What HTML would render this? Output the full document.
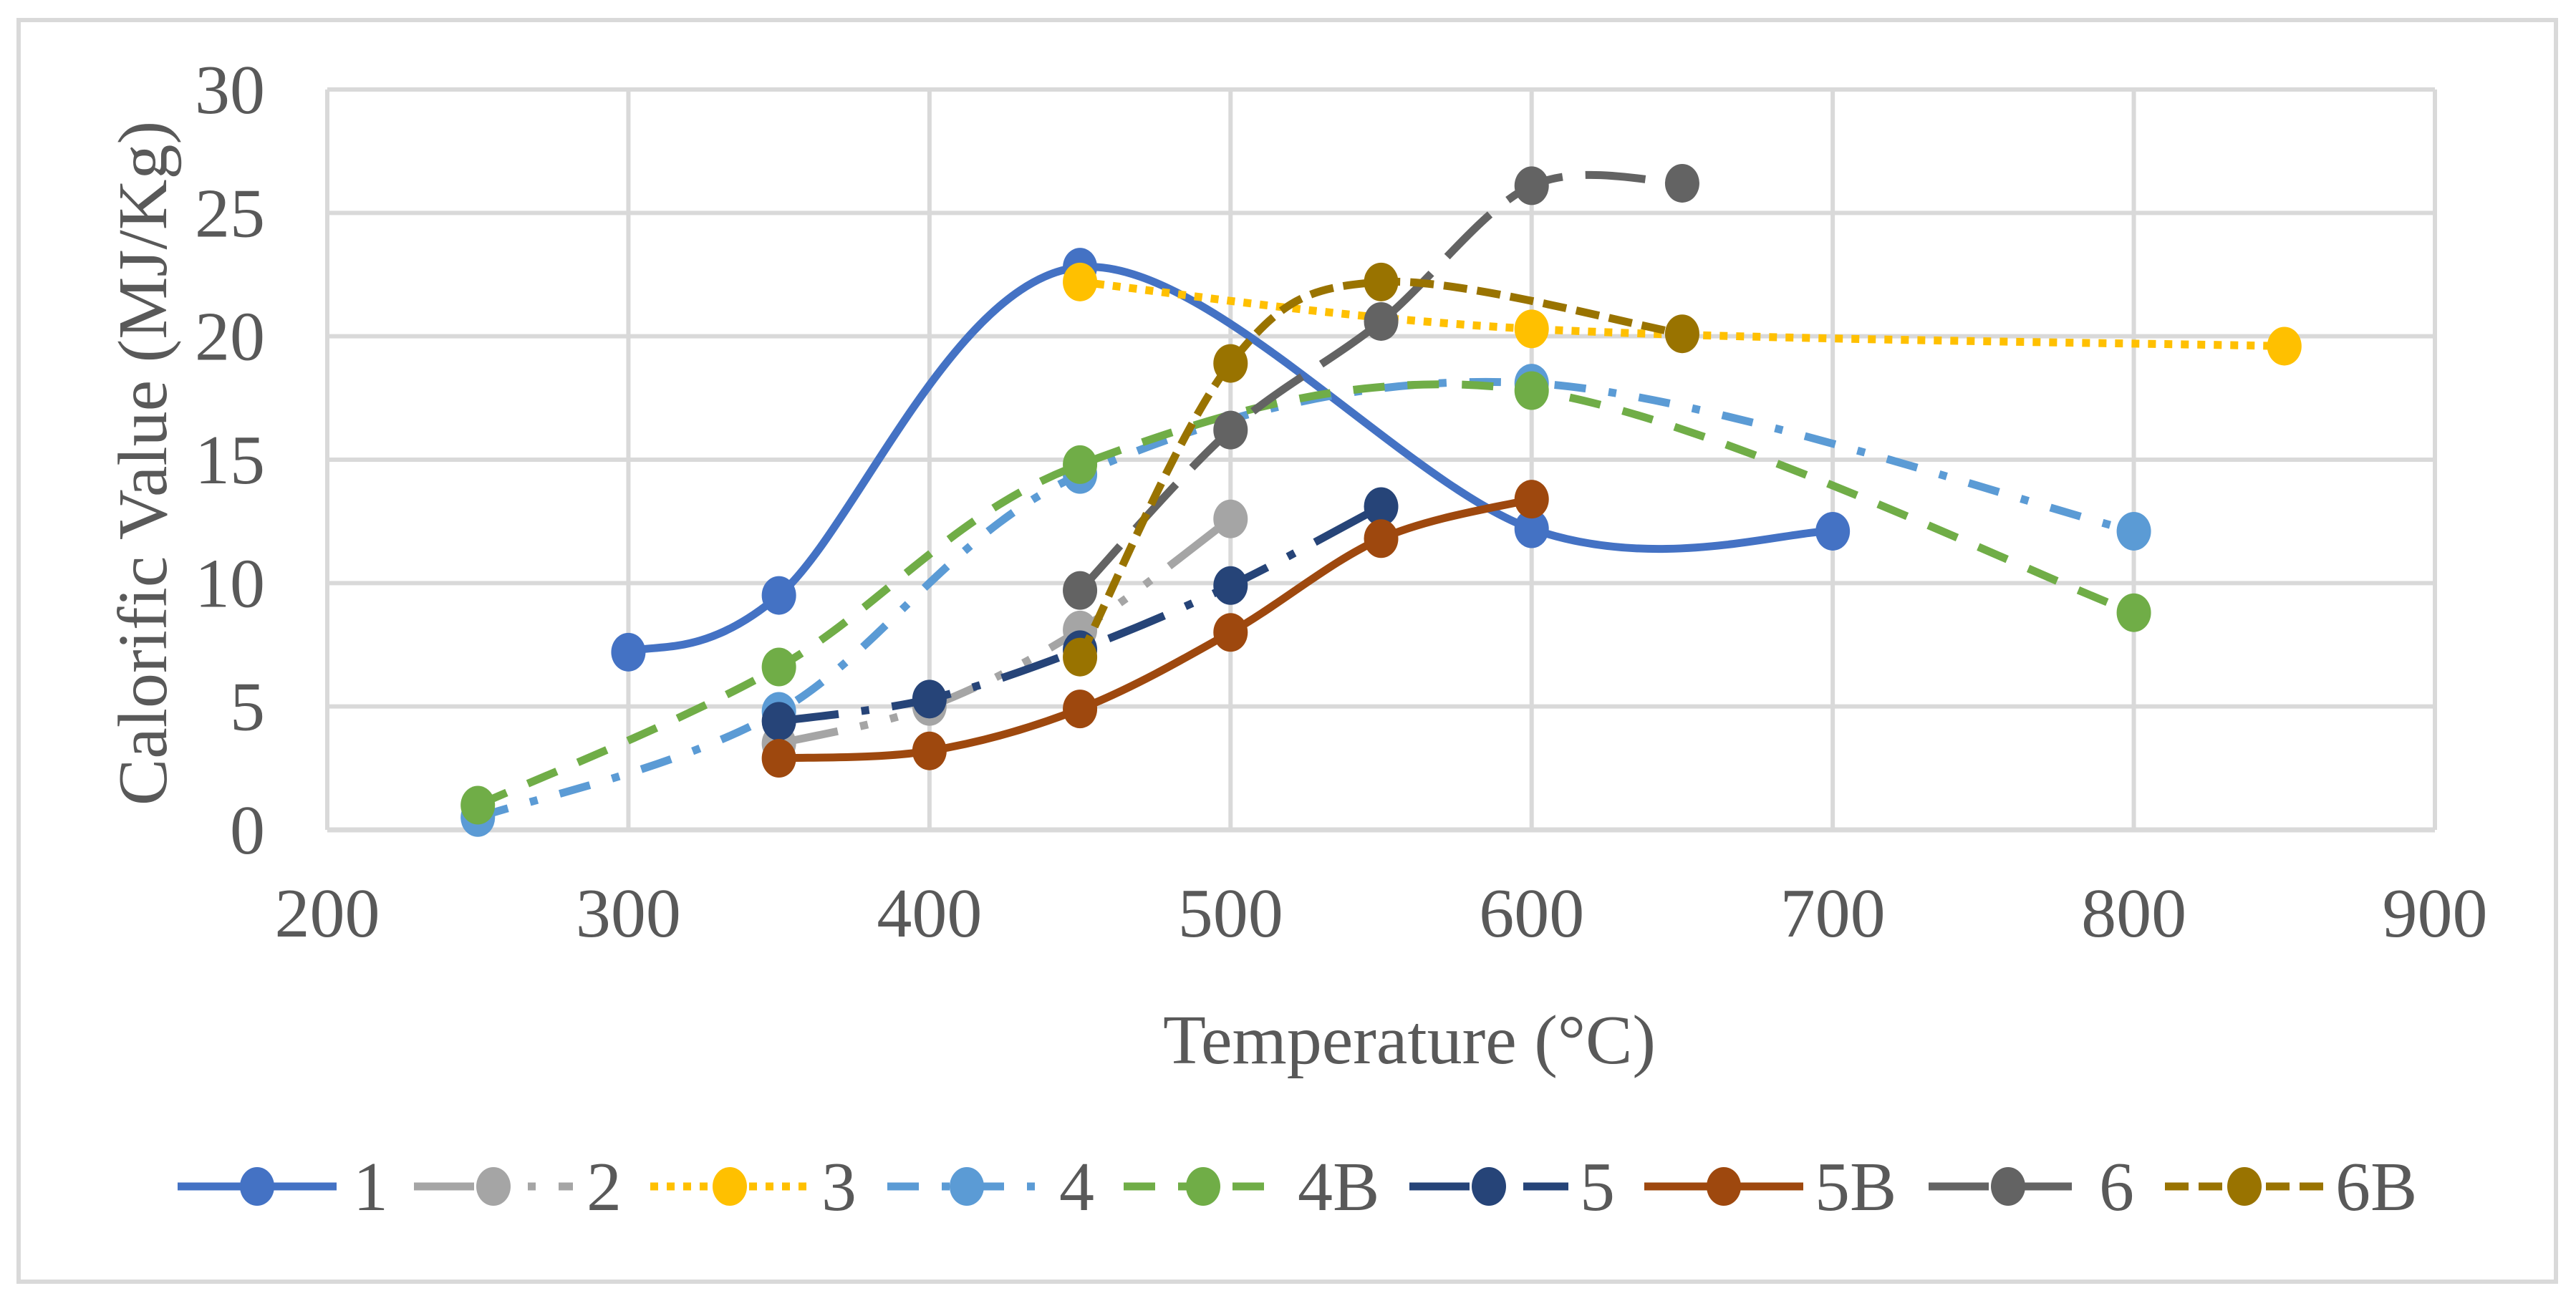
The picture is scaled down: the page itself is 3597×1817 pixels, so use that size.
<!DOCTYPE html>
<html><head><meta charset="utf-8">
<style>
html,body{margin:0;padding:0;background:#fff;}
svg{display:block;font-family:"Liberation Serif",serif;}
</style></head>
<body>
<svg id="chart" width="3597" height="1817" viewBox="0 0 3597 1817" xmlns="http://www.w3.org/2000/svg">
<rect x="26" y="28" width="3543" height="1762" fill="#fff" stroke="#D9D9D9" stroke-width="6"/>
<g id="grid"></g>
<g id="series"></g>
<g id="ticks"></g>
<text x="1968" y="1485" font-size="98" fill="#595959" text-anchor="middle">Temperature (°C)</text>
<text transform="translate(232,647) rotate(-90)" font-size="98" fill="#595959" text-anchor="middle">Calorific Value (MJ/Kg)</text>
<g id="legend"></g>
</svg>
<script>
const xTicks = [200,300,400,500,600,700,800,900];
const yTicks = [0,5,10,15,20,25,30];
const seriesNames = ["1","2","3","4","4B","5","5B","6","6B"];
const x1 = [300,350,450,600,700];       const y1 = [7.2,9.5,22.8,12.2,12.1];
const x2 = [350,400,450,500];           const y2 = [3.5,5.0,8.1,12.6];
const x3 = [450,600,850];               const y3 = [22.2,20.3,19.6];
const x4 = [250,350,450,600,800];       const y4 = [0.5,4.8,14.4,18.1,12.1];
const x4B = [250,350,450,600,800];      const y4B = [1.0,6.6,14.8,17.8,8.8];
const x5 = [350,400,450,500,550];       const y5 = [4.4,5.3,7.3,9.9,13.1];
const x5B = [350,400,450,500,550,600];  const y5B = [2.9,3.2,4.9,8.0,11.8,13.4];
const x6 = [450,500,550,600,650];       const y6 = [9.7,16.2,20.6,26.1,26.2];
const x6B = [450,500,550,650];          const y6B = [7.0,18.9,22.2,20.1];

const NS="http://www.w3.org/2000/svg";
const L=457,R=3400,T=125,B=1159;
const sx=v=>L+(v-200)/700*(R-L);
const sy=v=>B-v/30*(B-T);
function mk(tag,parent){const e=document.createElementNS(NS,tag);parent.appendChild(e);return e;}
const grid=document.getElementById('grid'),ticks=document.getElementById('ticks');
yTicks.forEach(v=>{const l=mk('line',grid);


l.setAttribute('x1',L);l.setAttribute('x2',R);l.setAttribute('y1',sy(v));l.setAttribute('y2',sy(v));
l.setAttribute('stroke','#D9D9D9');l.setAttribute('stroke-width',v===0?7:6);
const t=mk('text',ticks);


t.setAttribute('x',370);t.setAttribute('y',sy(v)+33);t.setAttribute('text-anchor','end');
t.setAttribute('font-size','98');t.setAttribute('fill','#595959');t.textContent=v;});
xTicks.forEach(v=>{const l=mk('line',grid);


l.setAttribute('x1',sx(v));l.setAttribute('x2',sx(v));l.setAttribute('y1',T);l.setAttribute('y2',B);
l.setAttribute('stroke','#D9D9D9');l.setAttribute('stroke-width',6);
const t=mk('text',ticks);


t.setAttribute('x',sx(v));t.setAttribute('y',1308);t.setAttribute('text-anchor','middle');
t.setAttribute('font-size','98');t.setAttribute('fill','#595959');t.textContent=v;});

const colors={"1":"#4472C4","2":"#A5A5A5","3":"#FFC000","4":"#5B9BD5","4B":"#70AD47","5":"#264478","5B":"#9E480E","6":"#636363","6B":"#997300"};
const dashes={"1":"","2":"84 32 11 32 11 32","3":"11 12","4":"44 32 11 32","4B":"44 32","5":"84 32 11 32","5B":"","6":"84 32","6B":"33 14"};
const data={"1":[x1,y1],"2":[x2,y2],"3":[x3,y3],"4":[x4,y4],"4B":[x4B,y4B],"5":[x5,y5],"5B":[x5B,y5B],"6":[x6,y6],"6B":[x6B,y6B]};
function smooth(p){let d=`M${p[0][0]},${p[0][1]}`;
for(let i=0;i<p.length-1;i++){const p0=p[i-1]||p[i],p1=p[i],p2=p[i+1],p3=p[i+2]||p2;
const c1=[p1[0]+(p2[0]-p0[0])/6,p1[1]+(p2[1]-p0[1])/6],c2=[p2[0]-(p3[0]-p1[0])/6,p2[1]-(p3[1]-p1[1])/6];
d+=` C${c1[0]},${c1[1]} ${c2[0]},${c2[1]} ${p2[0]},${p2[1]}`;}return d;}
const sg=document.getElementById('series');
seriesNames.forEach(n=>{const [xs,ys]=data[n];const pts=xs.map((x,i)=>[sx(x),sy(ys[i])]);
const g=mk('g',sg);


const p=mk('path',g);


p.setAttribute('d',smooth(pts));p.setAttribute('fill','none');p.setAttribute('stroke',colors[n]);
p.setAttribute('stroke-width',11);if(dashes[n])p.setAttribute('stroke-dasharray',dashes[n]);
pts.forEach(q=>{const c=mk('ellipse',g);


c.setAttribute('cx',q[0]);c.setAttribute('cy',q[1]);c.setAttribute('rx',24);c.setAttribute('ry',27);c.setAttribute('fill',colors[n]);});});

const legX=[248,578,908,1239,1569,1968,2296,2693,3023];
const labX=[493,819,1147,1479,1812,2206,2534,2931,3261];
const lg=document.getElementById('legend');
seriesNames.forEach((n,i)=>{const g=mk('g',lg);


const l=mk('line',g);


l.setAttribute('x1',legX[i]);l.setAttribute('x2',legX[i]+222);l.setAttribute('y1',1657);l.setAttribute('y2',1657);
l.setAttribute('stroke',colors[n]);l.setAttribute('stroke-width',11);if(dashes[n])l.setAttribute('stroke-dasharray',dashes[n]);
const c=mk('ellipse',g);


c.setAttribute('cx',legX[i]+111);c.setAttribute('cy',1657);c.setAttribute('rx',24);c.setAttribute('ry',27);c.setAttribute('fill',colors[n]);
const t=mk('text',g);


t.setAttribute('x',labX[i]);t.setAttribute('y',1690);t.setAttribute('font-size','98');t.setAttribute('fill','#595959');t.textContent=n;});
</script>
</body></html>
